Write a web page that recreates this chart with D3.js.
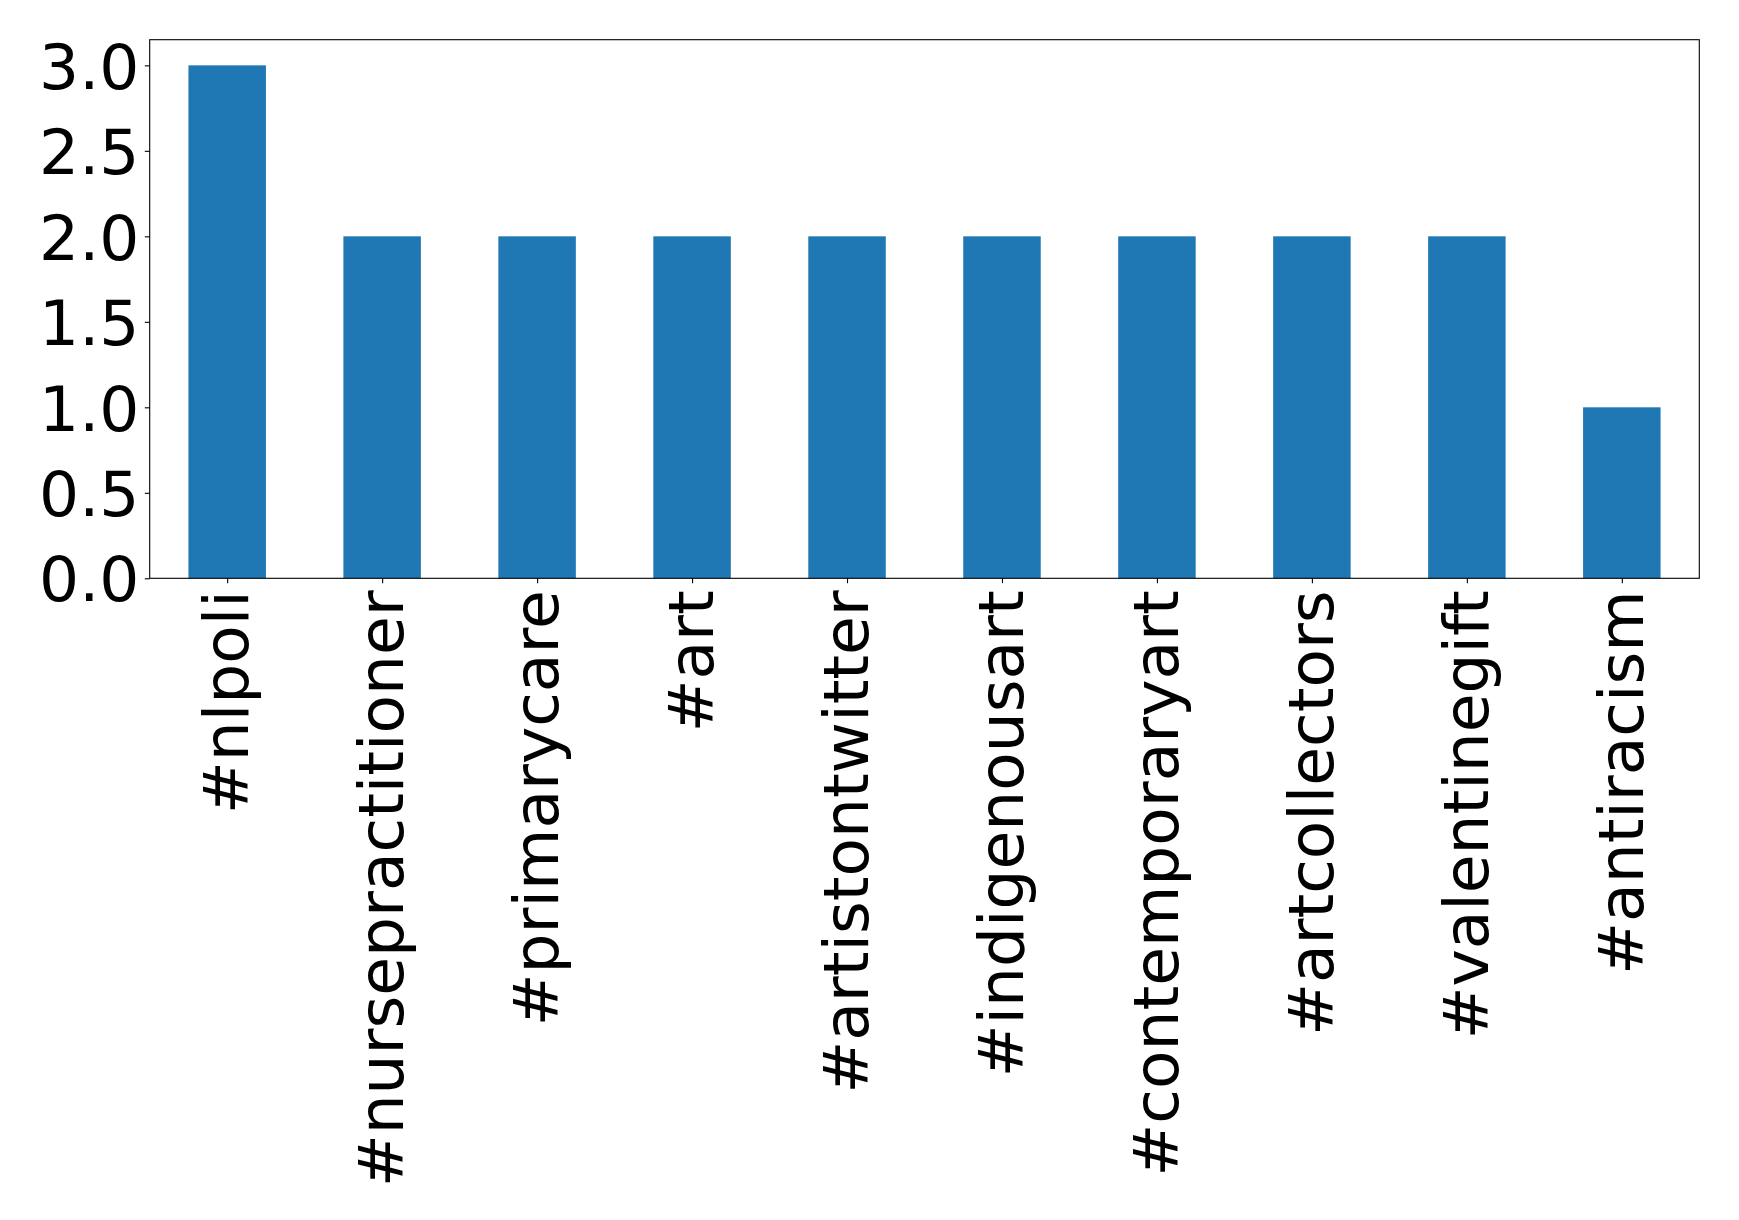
<!DOCTYPE html>
<html><head><meta charset="utf-8">
<script src="https://cdn.jsdelivr.net/npm/d3@7/dist/d3.min.js"></script>
<style>html,body{margin:0;padding:0;background:#fff;}svg{display:block;}</style>
</head><body>
<svg id="chart" width="1739" height="1220"></svg>
<script>
const categories = ["#nlpoli","#nursepractitioner","#primarycare","#art","#artistontwitter","#indigenousart","#contemporaryart","#artcollectors","#valentinegift","#antiracism"];
const counts = [3,2,2,2,2,2,2,2,2,1];
const yTicks = [0,0.5,1.0,1.5,2.0,2.5,3.0];

const W = 1739, H = 1220;
const m = {left:149.7, right:W-1699.3, top:39.7, bottom:H-578.3};
const svg = d3.select("#chart");
const FONT = "'DejaVu Sans', sans-serif";
const FS = 63;

const x = d3.scaleLinear().domain([-0.5, categories.length-0.5]).range([m.left, W-m.right]);
const y = d3.scaleLinear().domain([0, 3.15]).range([H-m.bottom, m.top]);
const bw = x(0.5)-x(0);

svg.append("g").selectAll("rect").data(counts).join("rect")
  .attr("x",(d,i)=>x(i)-bw/2).attr("width",bw)
  .attr("y",d=>y(d)).attr("height",d=>y(0)-y(d))
  .attr("fill","#1f77b4");

const yAxis = d3.axisLeft(y).tickValues(yTicks).tickFormat(d3.format(".1f")).tickSize(4.9).tickPadding(5.5);
const gy = svg.append("g").attr("transform",`translate(${m.left},0)`).call(yAxis);
gy.select(".domain").remove();
gy.selectAll("text").attr("font-family",FONT).attr("font-size",FS).attr("fill","#000").attr("dy","0.36em");
gy.selectAll("line").attr("stroke","#000").attr("stroke-width",1.1);

const xAxis = d3.axisBottom(x).tickValues(d3.range(categories.length)).tickFormat(i=>categories[i]).tickSize(4.9).tickPadding(0);
const gx = svg.append("g").attr("transform",`translate(0,${H-m.bottom})`).call(xAxis);
gx.select(".domain").remove();
gx.selectAll("line").attr("stroke","#000").attr("stroke-width",1.1);
gx.selectAll("text")
  .attr("font-family",FONT).attr("font-size",FS).attr("fill","#000")
  .attr("text-anchor","end")
  .attr("transform","translate(0,12) rotate(-90)")
  .attr("x",0).attr("y",0).attr("dy","0.33em");

svg.append("rect").attr("x",m.left).attr("y",m.top)
  .attr("width",W-m.left-m.right).attr("height",H-m.top-m.bottom)
  .attr("fill","none").attr("stroke","#000").attr("stroke-width",1.1);
</script>
</body></html>
